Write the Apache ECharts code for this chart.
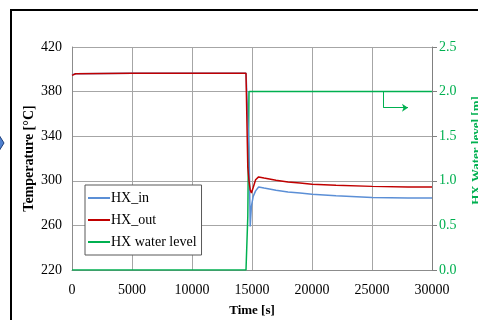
<!DOCTYPE html>
<html lang="en" style="height: 100%">
<head>
<meta charset="utf-8">
<title>HX temperatures and water level</title>
</head>
<body style="height: 100%; margin: 0; background: #fff">
<div id="container" style="width: 478px; height: 320px"></div>
<script type="text/javascript" src="https://cdn.jsdelivr.net/npm/echarts/dist/echarts.min.js"></script>
<script type="text/javascript">
// values
var time = [0, 300, 5000, 10000, 14500, 14600, 14650, 14750, 14850, 14950, 15100, 15300, 15550, 16000, 17000, 18000, 19000, 20000, 22000, 25000, 28000, 30000];
var hxIn = [395, 396, 396.5, 396.5, 396.5, 396.5, 396.5, 330, 259, 277, 286, 291, 294.5, 293.5, 291.5, 290, 289, 288, 286.5, 285, 284.5, 284.5];
var hxOut = [394.5, 396, 396.5, 396.5, 396.5, 396.5, 312, 300, 292, 289, 294, 301, 303.5, 302.5, 300.5, 299, 298, 297, 296, 295, 294.5, 294.5];
var waterLevel = [0, 0, 0, 0, 0, 0, 0.6, 2.0, 2.0, 2.0, 2.0, 2.0, 2.0, 2.0, 2.0, 2.0, 2.0, 2.0, 2.0, 2.0, 2.0, 2.0];
var tempTicks = { min: 220, max: 420, interval: 40 };
var levelTicks = { min: 0, max: 2.5, interval: 0.5 };
var timeTicks = { min: 0, max: 30000, interval: 5000 };

function pairs(ys) {
  return time.map(function (t, i) { return [t, ys[i]]; });
}

var dom = document.getElementById('container');
var myChart = echarts.init(dom);
var serif = 'Liberation Serif';
var green = '#00b050';

var option = {
  animation: false,
  backgroundColor: '#fff',
  textStyle: { fontFamily: serif },
  grid: { left: 72, right: 46, top: 47, bottom: 50, outerBoundsMode: 'none', containLabel: false },
  legend: {
    orient: 'vertical',
    left: 85,
    top: 185,
    width: 115,
    padding: [6, 5, 6, 3],
    itemGap: 8,
    icon: 'rect',
    itemWidth: 22,
    itemHeight: 2,
    backgroundColor: '#fff',
    borderColor: '#595959',
    borderWidth: 1,
    borderRadius: 0,
    textStyle: { fontFamily: serif, fontSize: 14, color: '#000', padding: [0, 0, 0, -4] },
    data: ['HX_in', 'HX_out', 'HX water level']
  },
  xAxis: {
    type: 'value',
    min: timeTicks.min,
    max: timeTicks.max,
    interval: timeTicks.interval,
    name: 'Time [s]',
    nameLocation: 'middle',
    nameGap: 34,
    nameTextStyle: { fontFamily: serif, fontSize: 13, fontWeight: 'bold', color: '#000' },
    axisLine: { lineStyle: { color: '#8c8c8c' } },
    axisTick: { show: false },
    axisLabel: {
      fontFamily: serif, fontSize: 14, color: '#000', margin: 13,
      formatter: function (v) { return String(v); }
    },
    splitLine: { lineStyle: { color: '#a6a6a6' } }
  },
  yAxis: [
    {
      type: 'value',
      min: tempTicks.min,
      max: tempTicks.max,
      interval: tempTicks.interval,
      name: 'Temperature [\u00b0C]',
      nameLocation: 'middle',
      nameGap: 36,
      nameMoveOverlap: false,
      nameTextStyle: { fontFamily: serif, fontSize: 14, fontWeight: 'bold', color: '#000' },
      axisLine: { show: true, lineStyle: { color: '#8c8c8c' } },
      axisTick: { show: false },
      axisLabel: { fontFamily: serif, fontSize: 14, color: '#000', margin: 10 },
      splitLine: { lineStyle: { color: '#a6a6a6' } }
    },
    {
      type: 'value',
      min: levelTicks.min,
      max: levelTicks.max,
      interval: levelTicks.interval,
      name: 'HX Water level [m]',
      nameLocation: 'middle',
      nameRotate: 90,
      nameGap: 38,
      nameTextStyle: { fontFamily: serif, fontSize: 13, fontWeight: 'bold', color: green, padding: [0, 0, 0, 16] },
      axisLine: { show: true, lineStyle: { color: '#808080' } },
      axisTick: { show: true, length: 5, lineStyle: { color: '#808080' } },
      axisLabel: {
        fontFamily: serif, fontSize: 14, color: green, margin: 7,
        formatter: function (v) { return v.toFixed(1); }
      },
      splitLine: { show: false }
    }
  ],
  series: [
    {
      name: 'HX_in',
      type: 'line',
      symbol: 'none',
      z: 3,
      lineStyle: { color: '#5b8fd6', width: 1.5 },
      itemStyle: { color: '#5b8fd6' },
      data: pairs(hxIn)
    },
    {
      name: 'HX_out',
      type: 'line',
      symbol: 'none',
      z: 4,
      lineStyle: { color: '#c00000', width: 1.5 },
      itemStyle: { color: '#c00000' },
      data: pairs(hxOut)
    },
    {
      name: 'HX water level',
      type: 'line',
      yAxisIndex: 1,
      symbol: 'none',
      z: 2,
      lineStyle: { color: green, width: 1.5 },
      itemStyle: { color: green },
      data: pairs(waterLevel),
      markLine: {
        silent: true,
        symbol: ['none', 'none'],
        label: { show: false },
        lineStyle: { color: green, width: 1, type: 'solid' },
        data: [
          [{ coord: [25940, 2.0] }, { coord: [25940, 1.82] }],
          [{ coord: [25940, 1.82] }, { coord: [28000, 1.82], symbol: 'arrow', symbolSize: 6 }]
        ]
      }
    }
  ],
  graphic: [
    {
      type: 'rect',
      shape: { x: 11, y: 10, width: 520, height: 400 },
      style: { fill: 'none', stroke: '#000', lineWidth: 2 },
      silent: true
    },
    {
      type: 'polygon',
      shape: { points: [[-6, 143], [-1, 135], [4, 143], [-1, 151]] },
      style: { fill: '#4f81d0', stroke: '#1f3f7a', lineWidth: 1 },
      silent: true
    }
  ]
};

myChart.setOption(option);
window.addEventListener('resize', myChart.resize);
</script>
</body>
</html>
